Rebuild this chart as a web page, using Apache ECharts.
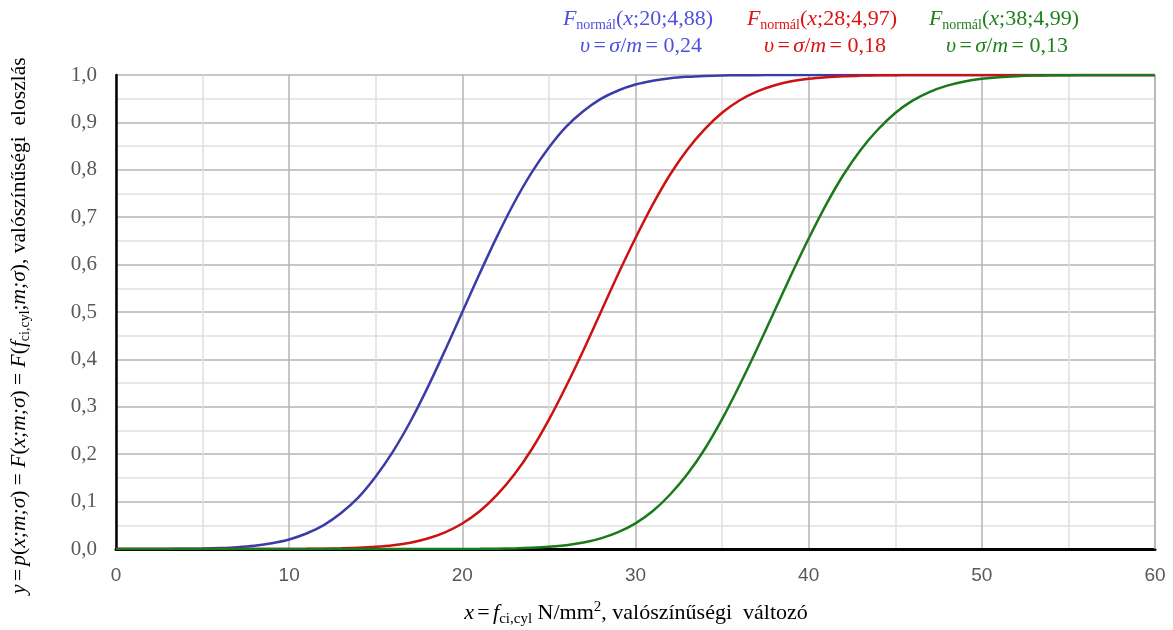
<!DOCTYPE html>
<html>
<head>
<meta charset="utf-8">
<script src="https://cdn.jsdelivr.net/npm/echarts@6/dist/echarts.min.js"></script>
<style>
  html, body { margin: 0; padding: 0; background: #fff; }
  #chart { width: 1173px; height: 630px; }
</style>
</head>
<body>
<div id="chart"></div>
<script>
// x values, N/mm2
var xValues = [];
for (var i = 0; i <= 60; i++) xValues.push(i);

// one value per x = 0..60
var blueValues = [
  0.00002, 0.00005, 0.0001, 0.00025, 0.0005, 0.0011, 0.0021, 0.0039, 0.0070, 0.0122,
  0.0202, 0.0327, 0.0505, 0.0760, 0.109, 0.153, 0.206, 0.269, 0.341, 0.419,
  0.500, 0.581, 0.659, 0.731, 0.794, 0.847, 0.891, 0.924, 0.9495, 0.9673,
  0.9798, 0.9878, 0.9930, 0.9961, 0.9979, 0.9989, 0.9995, 0.9997, 0.9999, 1,
  1, 1, 1, 1, 1, 1, 1, 1, 1, 1,
  1, 1, 1, 1, 1, 1, 1, 1, 1, 1, 1
];
var redValues = [
  0, 0, 0, 0, 0, 0, 0, 0, 0, 0,
  0.00015, 0.0003, 0.0006, 0.0013, 0.0024, 0.0045, 0.0079, 0.0134, 0.0221, 0.0351,
  0.0537, 0.0795, 0.114, 0.157, 0.210, 0.273, 0.344, 0.420, 0.500, 0.580,
  0.656, 0.727, 0.790, 0.843, 0.886, 0.9205, 0.9463, 0.9649, 0.9779, 0.9866,
  0.9921, 0.9955, 0.9976, 0.9987, 0.9994, 0.9997, 0.99985, 1, 1, 1,
  1, 1, 1, 1, 1, 1, 1, 1, 1, 1, 1
];
var greenValues = [
  0, 0, 0, 0, 0, 0, 0, 0, 0, 0,
  0, 0, 0, 0, 0, 0, 0, 0, 0, 0,
  0.00015, 0.0003, 0.0007, 0.0013, 0.0025, 0.0046, 0.0081, 0.0137, 0.0225, 0.0355,
  0.054, 0.080, 0.115, 0.158, 0.211, 0.274, 0.345, 0.421, 0.500, 0.579,
  0.655, 0.726, 0.789, 0.842, 0.885, 0.920, 0.946, 0.9645, 0.9775, 0.9863,
  0.9919, 0.9954, 0.9975, 0.9987, 0.9993, 0.9997, 0.99985, 1, 1, 1, 1
];

var blueLine = '#3c3ca8', redLine = '#cc1111', greenLine = '#1a7a1a';
var blueText = '#5050e0', redText = '#dd1111', greenText = '#1f7f1f';
var serif = '"Liberation Serif", "DejaVu Serif", serif';

function pairs(vals) {
  return vals.map(function (v, i) { return [xValues[i], v]; });
}

function titleBlock(cx, color, mu, sigma, cv) {
  return [
    {
      type: 'text', x: cx, y: 6,
      style: {
        text: '{f|F}{s|normál}{p|(}{f|x}{p|;' + mu + ';' + sigma + ')}',
        align: 'center',
        fill: color,
        rich: {
          f: { fontFamily: serif, fontStyle: 'italic', fontSize: 22, fill: color },
          s: { fontFamily: serif, fontSize: 14, fill: color, padding: [12, 0, 0, 0] },
          p: { fontFamily: serif, fontSize: 22, fill: color }
        }
      }
    },
    {
      type: 'text', x: cx + 3, y: 35,
      style: {
        text: '{i|υ} {p|=} {i|σ}{p|/}{i|m} {p|= ' + cv + '}',
        align: 'center',
        fill: color,
        rich: {
          i: { fontFamily: serif, fontStyle: 'italic', fontSize: 22, fill: color },
          p: { fontFamily: serif, fontSize: 22, fill: color }
        }
      }
    }
  ];
}

var chart = echarts.init(document.getElementById('chart'));

chart.setOption({
  animation: false,
  grid: { left: 116, right: 18, top: 75, bottom: 81, containLabel: false },
  xAxis: {
    type: 'value',
    min: 0, max: 60, interval: 10,
    axisLine: { show: true, onZero: false, lineStyle: { color: '#000', width: 3 } },
    axisTick: { show: false },
    axisLabel: { margin: 17, fontFamily: '"Liberation Sans", sans-serif', fontSize: 19, color: '#595959' },
    splitLine: { show: true, lineStyle: { color: '#b4b4b4', width: 1.5 } },
    minorTick: { show: false, splitNumber: 2 },
    minorSplitLine: { show: true, lineStyle: { color: '#e0e0e0', width: 1.5 } }
  },
  yAxis: {
    type: 'value',
    min: 0, max: 1, interval: 0.1,
    axisLine: { show: true, lineStyle: { color: '#000', width: 2.5 } },
    axisTick: { show: false },
    axisLabel: {
      margin: 19, fontFamily: serif, fontSize: 21, color: '#595959',
      formatter: function (v) { return v.toFixed(1).replace('.', ','); }
    },
    splitLine: { show: true, lineStyle: { color: '#b4b4b4', width: 1.5 } },
    minorTick: { show: false, splitNumber: 2 },
    minorSplitLine: { show: true, lineStyle: { color: '#e0e0e0', width: 1.5 } }
  },
  series: [
    { type: 'line', data: pairs(blueValues), smooth: 0.3, showSymbol: false, lineStyle: { color: blueLine, width: 2.5 } },
    { type: 'line', data: pairs(redValues), smooth: 0.3, showSymbol: false, lineStyle: { color: redLine, width: 2.5 } },
    { type: 'line', data: pairs(greenValues), smooth: 0.3, showSymbol: false, lineStyle: { color: greenLine, width: 2.5 } }
  ],
  graphic: [].concat(
    titleBlock(638, blueText, '20', '4,88', '0,24'),
    titleBlock(822, redText, '28', '4,97', '0,18'),
    titleBlock(1004, greenText, '38', '4,99', '0,13'),
    [
      // right border of plot
      { type: 'line', shape: { x1: 1155, y1: 75, x2: 1155, y2: 549 }, style: { stroke: '#b4b4b4', lineWidth: 1.5 }, z: 1 },
      {
        type: 'text', x: 636, y: 600,
        style: {
          text: '{i|x} {p|=} {i|f}{s|ci,cyl}{p| N/mm}{u|2}{p|, valószínűségi  változó}',
          align: 'center',
          rich: {
            i: { fontFamily: serif, fontStyle: 'italic', fontSize: 22, fill: '#000' },
            p: { fontFamily: serif, fontSize: 22, fill: '#000' },
            s: { fontFamily: serif, fontSize: 15, fill: '#000', padding: [12, 0, 0, 0] },
            u: { fontFamily: serif, fontSize: 15, fill: '#000', padding: [0, 0, 12, 0] }
          }
        }
      },
      {
        type: 'text', x: 6, y: 594, rotation: Math.PI / 2,
        style: {
          text: '{i|y} {p|=} {i|p}{p|(}{i|x;m;σ}{p|) = }{i|F}{p|(}{i|x;m;σ}{p|) = }{i|F}{p|(}{i|f}{s|ci,cyl}{p|;}{i|m;σ}{p|), valószínűségi  eloszlás}',
          rich: {
            i: { fontFamily: serif, fontStyle: 'italic', fontSize: 21.5, fill: '#000' },
            p: { fontFamily: serif, fontSize: 21.5, fill: '#000' },
            s: { fontFamily: serif, fontSize: 14, fill: '#000', padding: [12, 0, 0, 0] }
          }
        }
      }
    ]
  )
});
</script>
</body>
</html>
